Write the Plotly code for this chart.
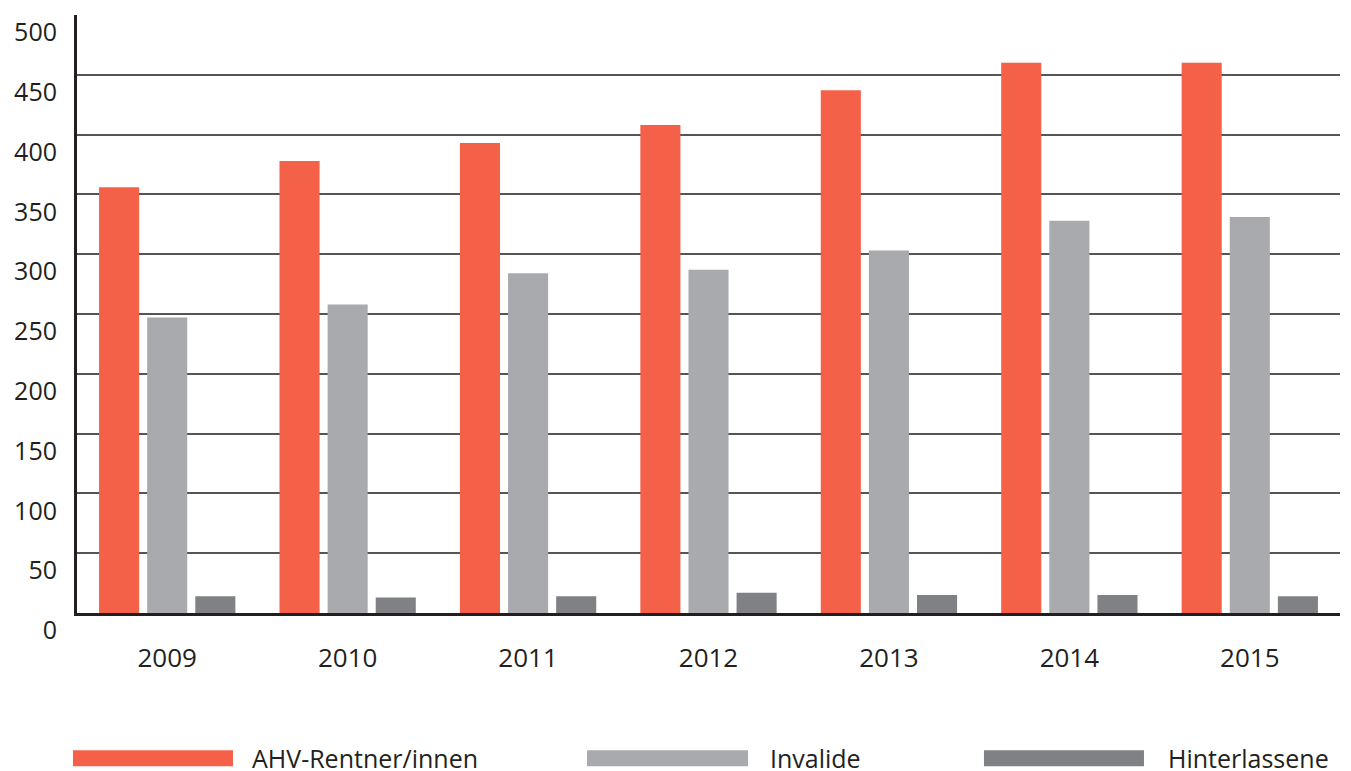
import plotly.graph_objects as go

years = ["2009", "2010", "2011", "2012", "2013", "2014", "2015"]
series_names = ["AHV-Rentner/innen", "Invalide", "Hinterlassene"]
ahv = [356, 378, 393, 408, 437, 460, 460]
invalide = [247, 258, 284, 287, 303, 328, 331]
hinterlassene = [14, 13, 14, 17, 15, 15, 14]
colors = ["#F46048", "#A9AAAD", "#808184"]
y_ticks = [0, 50, 100, 150, 200, 250, 300, 350, 400, 450, 500]

FONT = "Open Sans"
TXT = "#231F20"

fig = go.Figure()
for name, vals, col in zip(series_names, [ahv, invalide, hinterlassene], colors):
    fig.add_trace(go.Bar(x=years, y=vals, name=name, marker=dict(color=col, line=dict(width=0)),
                         showlegend=False, hoverinfo="x+y+name"))

# custom legend: wide swatches + labels (paper coordinates)
leg_swatch = [(-0.0032, 0.1235), (0.4038, 0.5313), (0.7181, 0.8448)]
leg_text_x = [0.137, 0.5471, 0.8622]
for (x0, x1), tx, name, col in zip(leg_swatch, leg_text_x, series_names, colors):
    fig.add_shape(type="rect", xref="paper", yref="paper", x0=x0, x1=x1,
                  y0=-0.2563, y1=-0.2295, fillcolor=col, line=dict(width=0))
    fig.add_annotation(text=name, xref="paper", yref="paper", x=tx, y=-0.243,
                       xanchor="left", yanchor="middle", showarrow=False,
                       font=dict(family=FONT, size=25, color=TXT))

fig.update_layout(
    width=1343, height=763,
    margin=dict(l=69, r=11, t=6.5, b=157.5),
    plot_bgcolor="white", paper_bgcolor="white",
    barmode="group", bargap=0.2, bargroupgap=0.167,
    font=dict(family=FONT, color=TXT),
    showlegend=False,
)
fig.update_xaxes(showgrid=False, showline=True, linecolor="#231F20", linewidth=3,
                 ticks="", tickfont=dict(size=26, color=TXT), ticklabelstandoff=20)
fig.update_yaxes(range=[0, 500], tickvals=y_ticks, showgrid=True, gridcolor="#555555", gridwidth=2,
                 showline=True, linecolor="#231F20", linewidth=3, zeroline=False,
                 ticks="", tickfont=dict(size=25, color=TXT), ticklabelposition="outside bottom",
                 ticklabelstandoff=12)

fig.write_html("out.html")
